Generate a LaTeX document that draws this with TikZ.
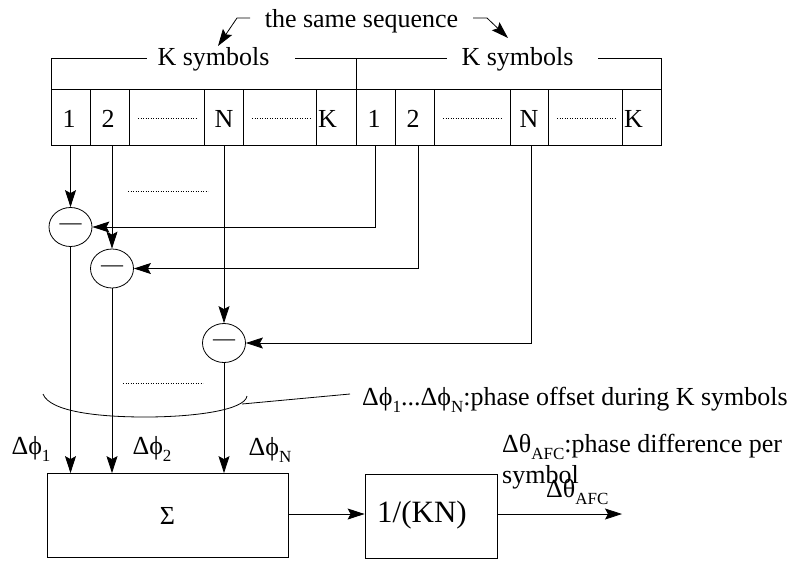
\documentclass[tikz,border=0pt]{standalone}
\usepackage{fontspec}
\setmainfont{Liberation Serif}
\usetikzlibrary{shapes.geometric,arrows.meta}
\newcommand\fs{\fontsize{26}{31}\selectfont}
\newcommand\lo[1]{\raisebox{-0.28em}{\fontsize{17}{17}\selectfont #1}}
\begin{document}
\begin{tikzpicture}[x=1pt,y=-1pt,
  every node/.style={font=\fs, inner sep=0pt},
  ln/.style={line width=0.8pt},
  arr/.style={ln,-{Stealth[length=17pt,width=11pt,inset=3pt]}},
  cell/.style={draw,ln,minimum height=56pt,inner sep=0pt},
  box/.style={draw,ln,inner sep=0pt},
  sub/.style={draw,ln,ellipse,minimum width=43pt,minimum height=39pt,inner sep=0pt,font=\fontsize{22}{22}\selectfont},
  dots/.style={line width=0.9pt,dash pattern=on 0.9pt off 1.6pt}]
\useasboundingbox (0,0) rectangle (799,560);
% top label and arrows
\node[anchor=base] (same) at (361.5,27) {the same sequence};
\coordinate (la0) at (250,18); \coordinate (la1) at (237,18); \coordinate (la2) at (218,46);
\coordinate (ra0) at (473,18); \coordinate (ra1) at (487,18); \coordinate (ra2) at (508,38);
\draw[arr] (la0) -- (la1) -- (la2);
\draw[arr] (ra0) -- (ra1) -- (ra2);
% K symbols brackets
\node[anchor=base] (ks1) at (213.5,65) {K symbols};
\node[anchor=base] (ks2) at (517.5,65) {K symbols};
\coordinate (b0) at (51,89); \coordinate (b1) at (51,58); \coordinate (b2) at (356,58);
\coordinate (b3) at (356,89); \coordinate (b4) at (661,58); \coordinate (b5) at (661,89);
\coordinate (g1) at (147,58); \coordinate (g2) at (295,58);
\coordinate (g3) at (447,58); \coordinate (g4) at (598,58);
\draw[ln] (b0) -- (b1) -- (g1);
\draw[ln] (g2) -- (b2) -- (b3);
\draw[ln] (b2) -- (g3);
\draw[ln] (g4) -- (b4) -- (b5);
\draw[ln] (b0) -- (b5);
% cells left
\node[cell,minimum width=39pt] (L1) at (70.5,117) {};
\node[cell,minimum width=39pt] (L2) at (109.5,117) {};
\node[cell,minimum width=75pt] (LD1) at (166.5,117) {};
\node[cell,minimum width=39pt] (LN) at (223.5,117) {};
\node[cell,minimum width=73pt] (LD2) at (279.5,117) {};
\node[cell,minimum width=40pt] (LK) at (336,117) {};
% cells right
\node[cell,minimum width=39pt] (R1) at (375.5,117) {};
\node[cell,minimum width=39pt] (R2) at (414.5,117) {};
\node[cell,minimum width=76pt] (RD1) at (472,117) {};
\node[cell,minimum width=38pt] (RN) at (529,117) {};
\node[cell,minimum width=74pt] (RD2) at (585,117) {};
\node[cell,minimum width=39pt] (RK) at (641.5,117) {};
% cell labels
\node[anchor=base] at (69,127) {1};
\node[anchor=base] at (108,127) {2};
\node[anchor=base] at (224,127) {N};
\node[anchor=base west] at (318,127) {K};
\node[anchor=base] at (374,127) {1};
\node[anchor=base] at (413,127) {2};
\node[anchor=base] at (529,127) {N};
\node[anchor=base west] at (624,127) {K};
\draw[dots] (138,118) -- (197,118);
\draw[dots] (252,118) -- (310,118);
\draw[dots] (443,118) -- (502,118);
\draw[dots] (557,118) -- (615,118);
% subtractors
\node[sub] (e1) at (70.5,227) {—};
\node[sub] (e2) at (112,268.5) {—};
\node[sub] (e3) at (224,343) {—};
\draw[arr] (L1.south) -- (e1.north);
\draw[arr] (L2.south -| e2) -- (e2.north);
\draw[arr] (LN.south -| e3) -- (e3.north);
\draw[arr] (R1.south) |- (e1.east);
\draw[arr] ([xshift=3.5pt]R2.south) |- (e2.east);
\draw[arr] ([xshift=2pt]RN.south) |- (e3.east);
\draw[dots] (128,191) -- (208,191);
\draw[dots] (123,383) -- (203,383);
% sum and scale
\node[box,minimum width=241pt,minimum height=84pt] (sig) at (167.5,515.5) {Σ};
\node[box,minimum width=132pt,minimum height=84pt] (kn) at (431,516) {};
\node[font=\fontsize{31}{31}\selectfont] at (422,515) {1/(KN)};
\draw[arr] (e1.south) -- (e1.south |- sig.north);
\draw[arr] (e2.south) -- (e2.south |- sig.north);
\draw[arr] (e3.south) -- (e3.south |- sig.north);
\draw[arr] (sig.east |- 0,514) -- (kn.west |- 0,514);
\coordinate (out) at (622,514);
\draw[arr] (kn.east |- out) -- (out);
% brace and labels
\draw[ln] (43,394) .. controls (50,412) and (100,417) .. (145,417)
          .. controls (195,417) and (245,410) .. (247,396);
\node[anchor=base west] (off) at (362,405) {Δϕ\lo{1}...Δϕ\lo{N}:phase offset during K symbols};
\draw[ln] (242,404) -- (350,394);
\node[anchor=base] at (31,454) {Δϕ\lo{1}};
\node[anchor=base] at (152,454) {Δϕ\lo{2}};
\node[anchor=base] at (270,455) {Δϕ\lo{N}};
\node[anchor=base west] at (502,452) {Δθ\lo{AFC}:phase difference per};
\node[anchor=base west] at (502,483) {symbol};
\node[anchor=base west] at (546,497) {Δθ\lo{AFC}};
\end{tikzpicture}
\end{document}
